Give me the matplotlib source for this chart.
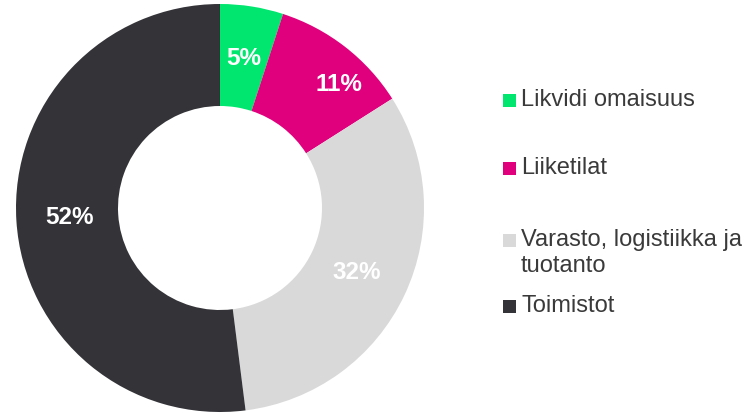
import matplotlib
matplotlib.use("Agg")
import matplotlib.pyplot as plt
import numpy as np
from matplotlib.patches import Rectangle

categories = ["Likvidi omaisuus", "Liiketilat", "Varasto, logistiikka ja\ntuotanto", "Toimistot"]
values = [5, 11, 32, 52]
labels = ["5%", "11%", "32%", "52%"]
colors = ["#00E66E", "#E0007D", "#D9D9D9", "#333338"]

plt.rcParams['font.family'] = ['Liberation Sans', 'DejaVu Sans']
W, H = 752, 413
fig = plt.figure(figsize=(W/100, H/100), dpi=100)
cx, cy, R = 220, 208, 204
ax = fig.add_axes([(cx-R)/W, (H-cy-R)/H, 2*R/W, 2*R/H])
wedges, _ = ax.pie(values, colors=colors, startangle=90, counterclock=False,
                   radius=1, wedgeprops=dict(width=0.5, linewidth=0))
ax.set_xlim(-1, 1); ax.set_ylim(-1, 1); ax.set_aspect('equal'); ax.axis('off')

label_r = [0.74, 0.84, 0.74, 0.74]
label_shift = [0, -6, 0, 0]
for w, lab, r, s in zip(wedges, labels, label_r, label_shift):
    ang = np.deg2rad((w.theta1 + w.theta2) / 2 + s)
    ax.text(r*np.cos(ang), r*np.sin(ang), lab, ha='center', va='center',
            color='white', fontsize=17.5, fontweight='bold')

legend_y = [100, 168, 240, 306]
for cat, col, y in zip(categories, colors, legend_y):
    fig.patches.append(Rectangle((503/W, (H-y-6.5)/H), 13/W, 13/H, transform=fig.transFigure,
                                 facecolor=col, edgecolor='none'))
    fig.text(521/W, (H-y)/H, cat.split("\n")[0], ha='left', va='center', fontsize=17, color='#3A3A3A')
    if "\n" in cat:
        fig.text(521/W, (H-y-26)/H, cat.split("\n")[1], ha='left', va='center', fontsize=17, color='#3A3A3A')

fig.savefig("out.png", dpi=100)
